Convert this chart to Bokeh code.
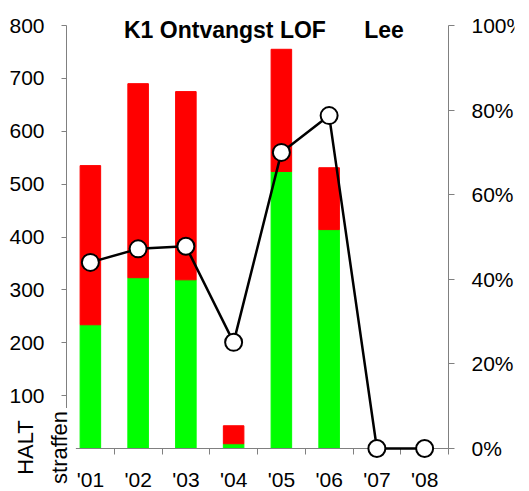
from math import pi

from bokeh.core.properties import value
from bokeh.embed import file_html
from bokeh.models import (ColumnDataSource, FactorRange, FixedTicker, Label, LabelSet,
                          LinearAxis, PrintfTickFormatter, Range1d, SingleIntervalTicker)
from bokeh.plotting import figure
from bokeh.resources import INLINE

# ---- data ----
years = ["'01", "'02", "'03", "'04", "'05", "'06", "'07", "'08"]
green_vals = [234, 323, 319, 9, 524, 414, 0, 0]      # lower (green) part of each bar
red_vals = [301, 367, 356, 34, 231, 117, 0, 0]       # upper (red) part of each bar
pct_vals = [44.0, 47.2, 47.8, 25.1, 70.0, 78.7, 0, 0]  # line, right axis (%)
left_max, left_tick_step = 800, 100
right_max, right_tick_step = 100, 20
title_text = "K1 Ontvangst LOF" + "\u00a0" * 6 + "Lee"
axis_title = "HALT\nstraffen"

# ---- layout (page pixels) ----
FONT = "Liberation Sans"
GREY = "#808080"
W, H = 529, 491
X0_PX, X1_PX = 66, 448          # left / right edge of the category band
Y_TOP_PX, Y_ZERO_PX = 25, 448   # pixel rows of the axis maximum and of zero
n = len(years)
px_per_cat = (X1_PX - X0_PX) / n
pad_cats = X0_PX / px_per_cat
right_border = int(round(W - (X1_PX + pad_cats * px_per_cat)))
left_per_px = left_max / (Y_ZERO_PX - Y_TOP_PX)
right_per_px = right_max / (Y_ZERO_PX - Y_TOP_PX)


def xd(px):
    return (px - X0_PX) / px_per_cat


def yd(py):
    return (Y_ZERO_PX - py) * left_per_px


src = ColumnDataSource(dict(year=years, green=green_vals, red=red_vals, pct=pct_vals))

x_range = FactorRange(*years, range_padding=pad_cats, range_padding_units="absolute")
y_range = Range1d(-(H - Y_ZERO_PX) * left_per_px, left_max + Y_TOP_PX * left_per_px)

p = figure(x_range=x_range, y_range=y_range, width=W, height=H,
           output_backend="svg", toolbar_location=None,
           x_axis_location=None, y_axis_location=None)
p.min_border = 0
p.min_border_right = right_border
p.extra_y_ranges = {"pct": Range1d(-(H - Y_ZERO_PX) * right_per_px,
                                   right_max + Y_TOP_PX * right_per_px)}
p.outline_line_color = None
p.grid.grid_line_color = None
p.background_fill_color = "white"
p.border_fill_color = "white"

p.vbar_stack(["green", "red"], x="year", width=0.43, color=["#00ff00", "#ff0000"], source=src)
p.line("year", "pct", source=src, y_range_name="pct", line_color="black", line_width=2.5,
       level="overlay")
p.scatter("year", "pct", source=src, y_range_name="pct", size=17, fill_color="white",
          line_color="black", line_width=2, level="overlay")


def style_axis(ax, tick_out, standoff):
    ax.major_tick_out = tick_out
    ax.major_tick_in = 0
    ax.minor_tick_line_color = None
    ax.axis_line_color = GREY
    ax.major_tick_line_color = GREY
    ax.major_label_text_font = FONT
    ax.major_label_text_font_size = "21px"
    ax.major_label_text_color = "black"
    ax.major_label_standoff = standoff


# left axis
ya = LinearAxis(fixed_location=0, bounds=(0, left_max),
                ticker=SingleIntervalTicker(interval=left_tick_step, num_minor_ticks=0))
style_axis(ya, 5, 17)
p.add_layout(ya, "left")

# right axis
ra = LinearAxis(y_range_name="pct", fixed_location=n, bounds=(0, right_max),
                ticker=SingleIntervalTicker(interval=right_tick_step, num_minor_ticks=0),
                formatter=PrintfTickFormatter(format="%d%%"))
style_axis(ra, 6, 17)
p.add_layout(ra, "right")

# bottom axis: line at 0 with ticks at the category boundaries (labels drawn below)
ba = LinearAxis(fixed_location=0, bounds=(0, n),
                ticker=FixedTicker(ticks=list(range(n + 1))))
style_axis(ba, 6, 0)
ba.major_label_text_color = None
p.add_layout(ba, "below")

# category labels
p.add_layout(LabelSet(x="year", y=yd(486), text="year", source=src,
                      text_align="center", text_baseline="alphabetic",
                      text_font=value(FONT), text_font_size=value("21px"),
                      text_color="black"))

# title
p.add_layout(Label(x=xd(123.5), y=yd(29), text=title_text,
                   text_font=FONT, text_font_size="23px", text_font_style="bold",
                   text_align="left", text_baseline="alphabetic", text_color="black"))

# axis title in a white box (covers the axis corner, as in the original)
p.add_layout(Label(x=xd(42), y=yd(447), text=axis_title, angle=pi / 2,
                   text_align="center", text_baseline="middle", text_font=FONT,
                   text_font_size="22px", text_line_height=1.35, text_color="black",
                   background_fill_color="white",
                   padding=dict(left=3, right=3, top=4, bottom=4)))

open("out.html", "w").write(file_html(p, INLINE))
